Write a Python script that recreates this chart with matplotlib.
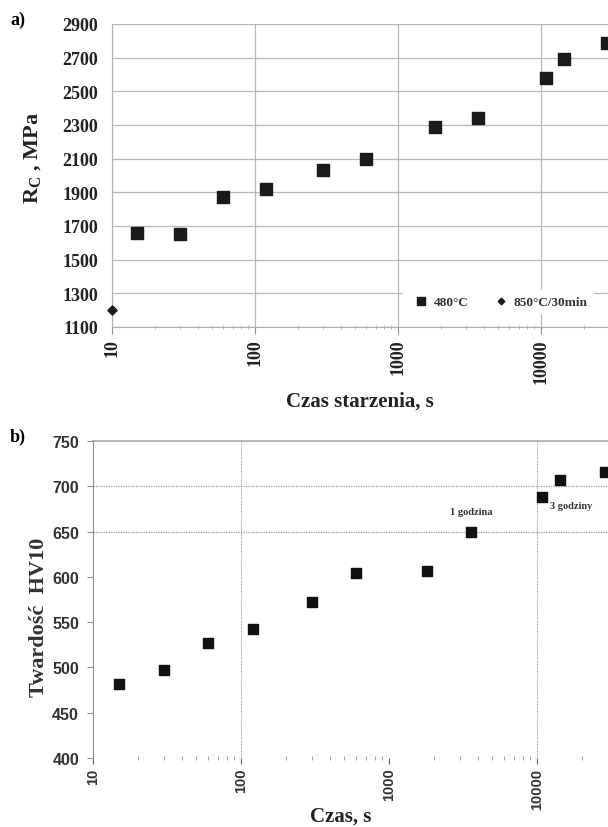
import numpy as np
import matplotlib.pyplot as plt
from matplotlib.ticker import LogLocator, NullFormatter

# panel a: compressive strength vs ageing time
t_a = [15, 30, 60, 120, 300, 600, 1800, 3600, 10800, 14400, 28800]
rc_a = [1660, 1650, 1870, 1920, 2030, 2100, 2290, 2340, 2580, 2690, 2790]
t_sol = [10]
rc_sol = [1200]
a_yticks = [1100, 1300, 1500, 1700, 1900, 2100, 2300, 2500, 2700, 2900]
x_ticks = [10, 100, 1000, 10000]

# panel b: hardness vs time
t_b = [15, 30, 60, 120, 300, 600, 1800, 3600, 10800, 14400, 28800]
hv_b = [482, 497, 527, 542, 572, 604, 607, 650, 688, 707, 716]
b_yticks = [400, 450, 500, 550, 600, 650, 700, 750]

serif = 'Liberation Serif'
sans = 'Liberation Sans'
W, H = 608, 828

fig = plt.figure(figsize=(W / 100, H / 100), dpi=100)
fig.patch.set_facecolor('white')


def rect(l, t, r, b):
    return [l / W, 1 - b / H, (r - l) / W, (b - t) / H]


# ---------- a) ----------
ax = fig.add_axes(rect(112, 25, 608, 328))
ax.set_xscale('log')
ax.set_xlim(10, 10 ** (1 + 496 / 143))
ax.set_ylim(1100, 2900)
ax.scatter(t_a, rc_a, marker='s', s=70, color='#1a1a1a', zorder=3,
           clip_on=False, label='480°C')
ax.scatter(t_sol, rc_sol, marker='D', s=22, color='#1a1a1a', zorder=3,
           clip_on=False, label='850°C/30min')
ax.set_yticks(a_yticks)
ax.set_xticks(x_ticks)
ax.set_xticklabels([str(v) for v in x_ticks], rotation=90)
ax.xaxis.set_minor_locator(LogLocator(base=10, subs=np.arange(2, 10)))
ax.xaxis.set_minor_formatter(NullFormatter())
ax.grid(True, which='major', color='#b8b8b8', lw=0.9)
for s in ['top', 'right']:
    ax.spines[s].set_visible(False)
for s in ['left', 'bottom']:
    ax.spines[s].set_color('#b0b0b0')
ax.tick_params(axis='y', length=0, pad=10)
ax.tick_params(axis='x', which='major', length=5, color='#909090', pad=3)
ax.tick_params(axis='x', which='minor', length=3, color='#b0b0b0',
               direction='inout')
for lab in ax.get_yticklabels() + ax.get_xticklabels():
    lab.set_fontfamily(serif)
    lab.set_fontweight('bold')
    lab.set_fontsize(13)
    lab.set_color('#222222')
ax.set_ylabel('R$_\\mathregular{C}$ , MPa', family=serif, fontweight='bold',
              fontsize=16, color='#222222')
ax.yaxis.set_label_coords(-(112 - 44) / 496, (328 - 158) / 303)
ax.set_xlabel('Czas starzenia, s', family=serif, fontweight='bold',
              fontsize=15, color='#222222', labelpad=6)
leg = ax.legend(loc='lower left', bbox_to_anchor=(284 / 496, 0.025, 0.42, 0.1),
                ncol=2, frameon=True, framealpha=1, edgecolor='white',
                handletextpad=0.0, columnspacing=1.4, markerscale=0.7,
                prop={'family': serif, 'weight': 'bold', 'size': 9.5})
for txt in leg.get_texts():
    txt.set_color('#333333')
fig.text(10 / W, 1 - 20 / H, 'a)', family=serif, fontweight='bold',
         fontsize=13, va='center')

# ---------- b) ----------
bx = fig.add_axes(rect(93, 442, 608, 759))
bx.set_xscale('log')
bx.set_xlim(10, 10 ** (1 + 515 / 148))
bx.set_ylim(400, 750)
bx.scatter(t_b, hv_b, marker='s', s=48, color='#111111', zorder=3,
           clip_on=False)
bx.set_yticks(b_yticks)
bx.set_xticks(x_ticks)
bx.set_xticklabels([str(v) for v in x_ticks], rotation=90)
bx.xaxis.set_minor_locator(LogLocator(base=10, subs=np.arange(2, 10)))
bx.xaxis.set_minor_formatter(NullFormatter())
for v in [650, 700]:
    bx.axhline(v, color='#9a9a9a', lw=0.9, ls=(0, (1, 1)), zorder=1)
bx.axhline(750, color='#b8b8b8', lw=1.4, zorder=1, clip_on=False)
for v in [100, 10000]:
    bx.axvline(v, color='#9a9a9a', lw=0.8, ls=(0, (1, 1)), zorder=1)
for s in ['top', 'right', 'bottom']:
    bx.spines[s].set_visible(False)
bx.spines['left'].set_color('#909090')
bx.tick_params(axis='y', length=4, color='#909090', pad=6)
bx.tick_params(axis='x', which='major', length=4, color='#606060', pad=3)
bx.tick_params(axis='x', which='minor', length=3, color='#909090',
               direction='inout')
for lab in bx.get_yticklabels() + bx.get_xticklabels():
    lab.set_fontfamily(sans)
    lab.set_fontweight('bold')
    lab.set_fontsize(11.5)
    lab.set_color('#333333')
for lab in bx.get_xticklabels():
    lab.set_fontsize(10.5)
bx.set_ylabel('Twardość  HV10', family=serif, fontweight='bold',
              fontsize=16, color='#333333')
bx.yaxis.set_label_coords(-(93 - 49) / 515, (759 - 617) / 317)
bx.set_xlabel('Czas, s', family=serif, fontweight='bold', fontsize=15,
              color='#222222')
bx.xaxis.set_label_coords((341 - 93) / 515, -(807 - 759) / 317)
bx.annotate('1 godzina', (t_b[7], hv_b[7]), xytext=(0, 11),
            textcoords='offset points', ha='center', va='bottom',
            family=serif, fontweight='bold', fontsize=7.5, color='#333333')
bx.annotate('3 godziny', (t_b[8], hv_b[8]), xytext=(6, -3),
            textcoords='offset points', ha='left', va='top',
            family=serif, fontweight='bold', fontsize=7.5, color='#333333')
fig.text(10 / W, 1 - 437 / H, 'b)', family=serif, fontweight='bold',
         fontsize=13, va='center')

fig.savefig('out.png', dpi=100, facecolor='white')
